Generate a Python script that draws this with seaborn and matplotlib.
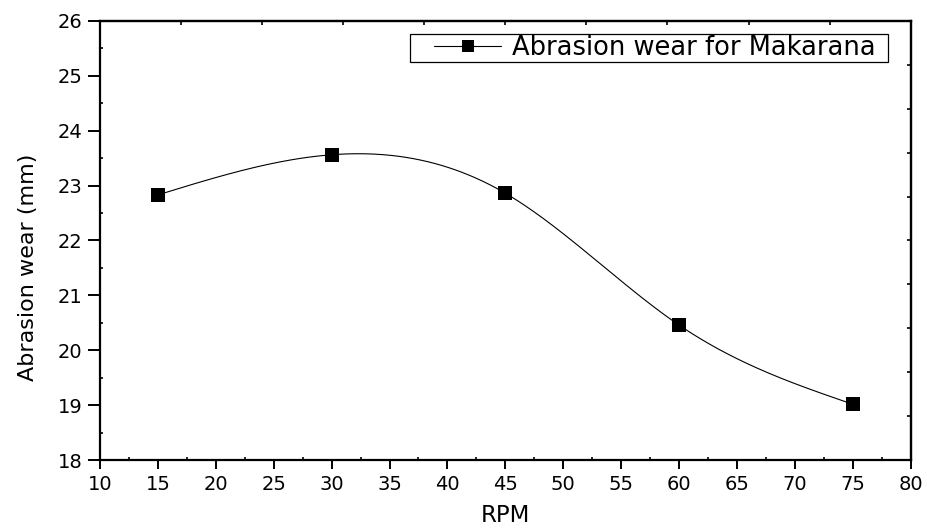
import numpy as np
import pandas as pd
import matplotlib
matplotlib.use("Agg")
import matplotlib.pyplot as plt
from matplotlib.lines import Line2D
from matplotlib.patches import Rectangle
from matplotlib.ticker import MultipleLocator
import seaborn as sns

# Measured abrasion wear of Makarana marble at different speeds
rpm = [15, 30, 45, 60, 75]
wear_mm = [22.83, 23.56, 22.86, 20.46, 19.02]
series_label = "Abrasion wear for Makarana"

x_ticks = list(range(10, 81, 5))
y_ticks = list(range(18, 27, 1))

df = pd.DataFrame({"RPM": rpm, "wear": wear_mm})


def natural_spline(xs, ys, num=300):
    """Natural cubic spline through the given points (smooth connecting line)."""
    xs = np.asarray(xs, float)
    ys = np.asarray(ys, float)
    n = len(xs)
    h = np.diff(xs)
    A = np.zeros((n, n))
    r = np.zeros(n)
    A[0, 0] = 1.0
    A[-1, -1] = 1.0
    for i in range(1, n - 1):
        A[i, i - 1] = h[i - 1]
        A[i, i] = 2 * (h[i - 1] + h[i])
        A[i, i + 1] = h[i]
        r[i] = 3 * ((ys[i + 1] - ys[i]) / h[i] - (ys[i] - ys[i - 1]) / h[i - 1])
    c = np.linalg.solve(A, r)
    b = (ys[1:] - ys[:-1]) / h - h * (2 * c[:-1] + c[1:]) / 3
    d = (c[1:] - c[:-1]) / (3 * h)
    xx = np.linspace(xs[0], xs[-1], num)
    idx = np.clip(np.searchsorted(xs, xx, side="right") - 1, 0, n - 2)
    t = xx - xs[idx]
    yy = ys[idx] + b[idx] * t + c[idx] * t ** 2 + d[idx] * t ** 3
    return xx, yy


sns.set_style("ticks")
plt.rcParams["font.family"] = ["DejaVu Sans"]
plt.rcParams["text.color"] = "black"
plt.rcParams["axes.labelcolor"] = "black"
plt.rcParams["xtick.color"] = "black"
plt.rcParams["ytick.color"] = "black"

fig = plt.figure(figsize=(9.27, 5.29), dpi=100)
ax = fig.add_axes([0.1079, 0.1299, 0.8745, 0.8310])

sx, sy = natural_spline(df["RPM"], df["wear"])
curve = pd.DataFrame({"RPM": sx, "wear": sy})
sns.lineplot(data=curve, x="RPM", y="wear", ax=ax, color="black",
             linewidth=0.8, legend=False)
sns.scatterplot(data=df, x="RPM", y="wear", ax=ax, marker="s", color="black",
                s=95, edgecolor="black", linewidth=0, legend=False, zorder=3)

ax.set_xlim(10, 80)
ax.set_ylim(18, 26)
ax.set_xticks(x_ticks)
ax.set_yticks(y_ticks)
ax.xaxis.set_minor_locator(MultipleLocator(2.5))
ax.yaxis.set_minor_locator(MultipleLocator(0.5))

ax.tick_params(which="major", direction="out", width=1.4, labelsize=14,
               colors="black", labelcolor="black")
ax.tick_params(axis="y", which="major", length=8.5, pad=4)
ax.tick_params(axis="x", which="major", length=6.5, pad=4)
ax.tick_params(which="minor", direction="in", length=2.5, width=1.2)

for sp in ax.spines.values():
    sp.set_linewidth(1.6)
    sp.set_color("black")
    sp.set_visible(True)

# Frame ticks on the top and right edges (tenths of the frame)
top = ax.secondary_xaxis("top", functions=(lambda v: (v - 10) / 7.0,
                                           lambda t: t * 7.0 + 10))
top.set_xticks(range(11), labels=[])
top.tick_params(direction="in", length=3, width=1.2)
top.spines["top"].set_linewidth(1.6)

right = ax.secondary_yaxis("right", functions=(lambda v: (v - 18) / 0.8,
                                               lambda t: t * 0.8 + 18))
right.set_yticks(range(11), labels=[])
right.tick_params(direction="in", length=3, width=1.2)
right.spines["right"].set_linewidth(1.6)

ax.set_xlabel("RPM", fontsize=16.5, labelpad=7, color="black")
ax.set_ylabel("Abrasion wear (mm)", fontsize=16, color="black")
ax.yaxis.set_label_coords(-0.0765, 0.44)

# Legend with a plain rectangular frame (axes fractions)
leg_box = (0.3824, 0.9054, 0.5896, 0.0636)
ax.add_patch(Rectangle(leg_box[:2], leg_box[2], leg_box[3],
                       transform=ax.transAxes, facecolor="white",
                       edgecolor="black", linewidth=0.9, zorder=4))
handle = Line2D([], [], color="black", linewidth=0.8, marker="s",
                markersize=9, markeredgewidth=0)
leg = ax.legend([handle], [series_label], loc="center left",
                bbox_to_anchor=leg_box, fontsize=18.5, frameon=False,
                borderpad=0.0, handlelength=2.6, handletextpad=0.4,
                borderaxespad=0.95)
leg.set_zorder(5)
for t in leg.get_texts():
    t.set_color("black")

fig.savefig("out.png", dpi=100)
